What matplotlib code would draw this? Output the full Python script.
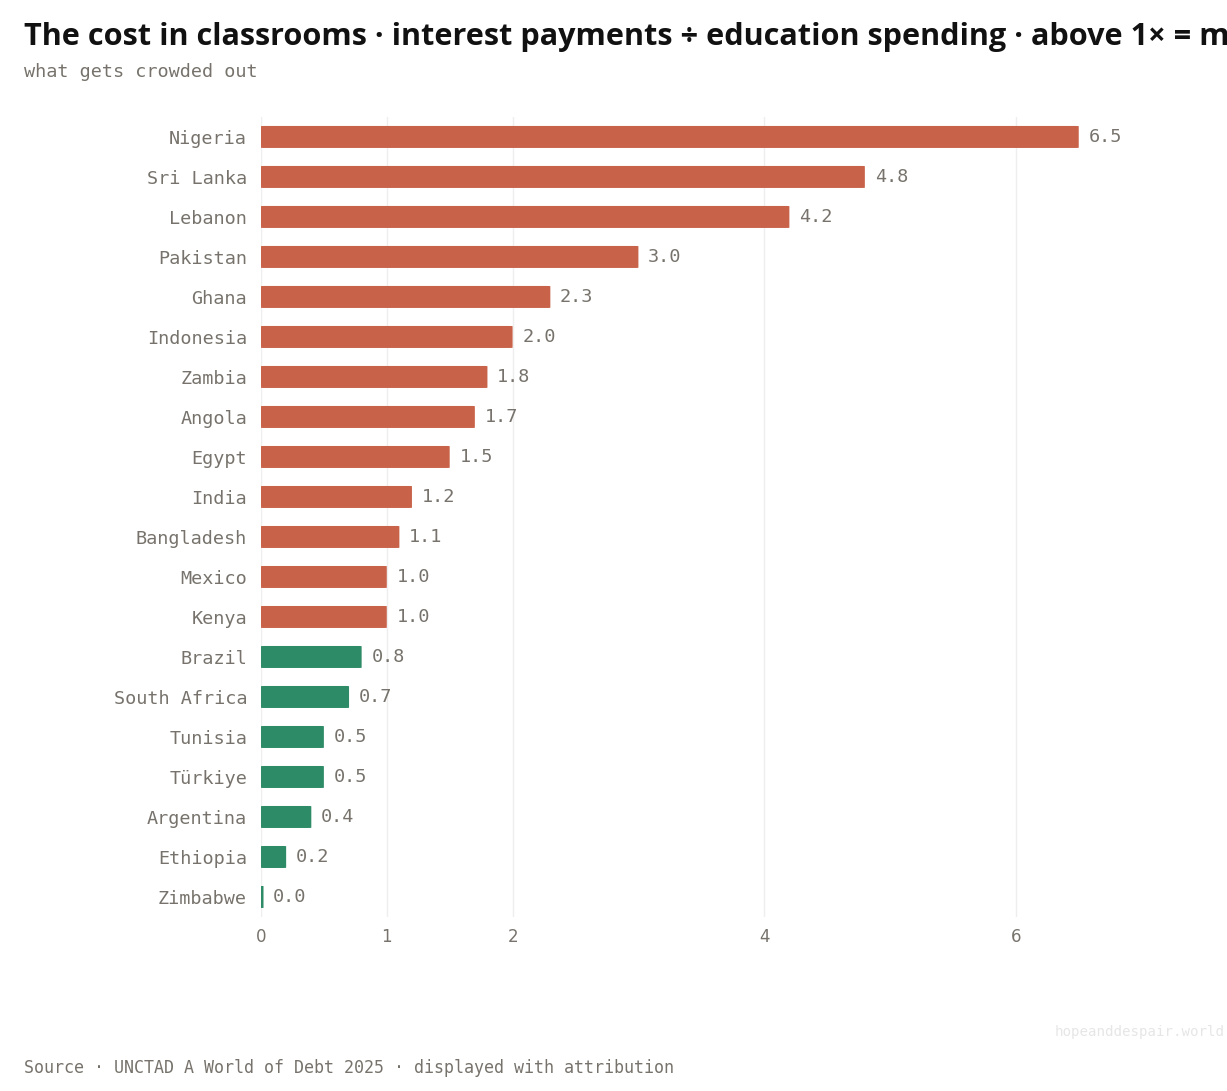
import matplotlib
matplotlib.use('Agg')
import matplotlib.pyplot as plt
from matplotlib.patches import FancyBboxPatch
import numpy as np

# data (interest payments / education spending)
countries = ['Nigeria', 'Sri Lanka', 'Lebanon', 'Pakistan', 'Ghana', 'Indonesia',
             'Zambia', 'Angola', 'Egypt', 'India', 'Bangladesh', 'Mexico', 'Kenya',
             'Brazil', 'South Africa', 'Tunisia', 'Türkiye', 'Argentina', 'Ethiopia',
             'Zimbabwe']
ratios = [6.5, 4.8, 4.2, 3.0, 2.3, 2.0, 1.8, 1.7, 1.5, 1.2, 1.1, 1.0, 1.0,
          0.8, 0.7, 0.5, 0.5, 0.4, 0.2, 0.02]
value_labels = ['6.5', '4.8', '4.2', '3.0', '2.3', '2.0', '1.8', '1.7', '1.5', '1.2',
                '1.1', '1.0', '1.0', '0.8', '0.7', '0.5', '0.5', '0.4', '0.2', '0.0']
x_ticks = [0, 1, 2, 4, 6]

red = '#c8634a'
green = '#2e8b67'
grey = '#77736c'
mono = 'DejaVu Sans Mono'
bar_h = 0.55

fig = plt.figure(figsize=(12.27, 10.91), dpi=100)
ax = fig.add_axes([0.2127, 0.1595, 0.7690, 0.7333])
ax.set_xlim(0, 7.5)
ax.set_ylim(len(countries) - 0.5, -0.5)

y = np.arange(len(countries))
colors = [red if r >= 1 else green for r in ratios]
# rounded bars; aspect = px per x unit / px per y unit
aspect = (0.7690 * 1227 / 7.5) / (0.7333 * 1091 / len(countries))
for yi, r, c in zip(y, ratios, colors):
    rs = min(0.022, r / 2)
    ax.add_patch(FancyBboxPatch((0, yi - bar_h / 2), r, bar_h,
                                boxstyle='round,pad=0,rounding_size=%f' % rs,
                                mutation_aspect=1 / aspect, fc=c, ec='none', zorder=3))

for yi, r, lab in zip(y, ratios, value_labels):
    ax.annotate(lab, (r, yi), xytext=(7, 0), textcoords='offset points',
                va='center', ha='left', fontsize=13.3, family=mono, color=grey)

ax.set_yticks(y)
ax.set_yticklabels(countries, family=mono, fontsize=13.3, color=grey)
for lbl in ax.get_yticklabels():
    lbl.set_y(lbl.get_position()[1])
ax.set_xticks(x_ticks)
ax.set_xticklabels([str(t) for t in x_ticks], fontsize=12, color=grey)
ax.tick_params(axis='both', length=0)
ax.tick_params(axis='y', pad=10)
ax.tick_params(axis='x', pad=8)
for t in x_ticks:
    ax.axvline(t, color='#eeeeee', lw=1, zorder=1)
for s in ax.spines.values():
    s.set_visible(False)

fig.text(0.0196, 0.966, 'The cost in classrooms · interest payments ÷ education spending · above 1× = more on interest than schools',
         fontsize=22.1, fontweight='bold', family=['Open Sans', 'DejaVu Sans'], color='#111111',
         va='center', ha='left')
fig.text(0.0196, 0.934, 'what gets crowded out', fontsize=13.3, family=mono, color=grey,
         va='center', ha='left')
fig.text(0.0196, 0.021, 'Source · UNCTAD A World of Debt 2025 · displayed with attribution',
         fontsize=12, family=mono, color=grey, va='center', ha='left')
fig.text(0.998, 0.054, 'hopeanddespair.world', fontsize=10.2, family=mono, color='#e6e6e6',
         va='center', ha='right')

fig.savefig('out.png', dpi=100)
